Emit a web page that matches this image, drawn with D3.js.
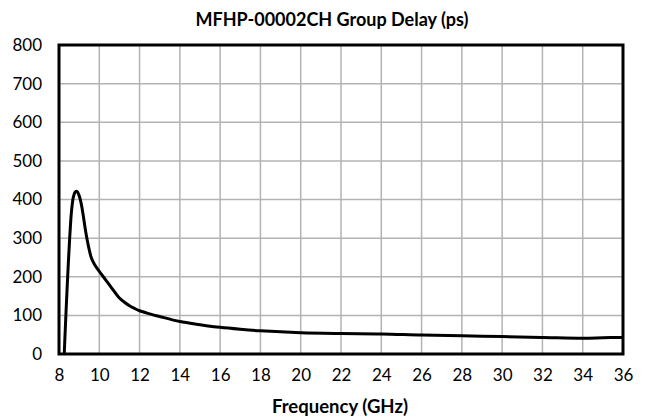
<!DOCTYPE html>
<html>
<head>
<meta charset="utf-8">
<script src="https://cdn.jsdelivr.net/npm/d3@7"></script>
<style>
  html, body { margin: 0; padding: 0; background: #fff; }
  svg { display: block; font-family: Lato, "Open Sans", sans-serif; }
</style>
</head>
<body>
<svg id="chart" width="650" height="419"></svg>
<script>
const titleText = "MFHP-00002CH Group Delay (ps)";
const xAxisTitle = "Frequency (GHz)";
const xTicks = [8,10,12,14,16,18,20,22,24,26,28,30,32,34,36];
const yTicks = [0,100,200,300,400,500,600,700,800];

const freq  = [8.26, 8.30, 8.35, 8.43, 8.53, 8.63, 8.72, 8.80, 8.89, 9.00, 9.10, 9.20, 9.30, 9.40, 9.50, 9.60, 9.75, 9.90, 10.0, 10.2, 10.4, 10.6, 10.8, 11.0, 11.25, 11.5, 11.75, 12, 12.5, 13, 14, 15, 16, 17, 18, 20, 22, 24, 26, 28, 30, 32, 34, 35, 36];
const delay = [0,    50,   110,  200,  300,  375,  408,  419,  421,  410,  390,  360,  325,  295,  270,  250,  233,  221,  214,  200,  186,  172,  158,  145,  134,   125,  118,   112, 104, 97, 84, 76, 69, 64, 60, 55, 53, 52, 49, 47, 45, 43, 41, 42, 43];

const svg = d3.select("#chart");
const m = { left: 59, right: 623, top: 45, bottom: 354 };

const x = d3.scaleLinear().domain([8, 36]).range([m.left, m.right]);
const y = d3.scaleLinear().domain([0, 800]).range([m.bottom, m.top]);

// gridlines
svg.append("g").selectAll("line.v").data(xTicks).join("line")
  .attr("x1", d => x(d)).attr("x2", d => x(d))
  .attr("y1", m.top).attr("y2", m.bottom)
  .attr("stroke", "#b3b3b3").attr("stroke-width", 1.5);
svg.append("g").selectAll("line.h").data(yTicks).join("line")
  .attr("x1", m.left).attr("x2", m.right)
  .attr("y1", d => y(d)).attr("y2", d => y(d))
  .attr("stroke", "#b3b3b3").attr("stroke-width", 1.5);

// clip
svg.append("clipPath").attr("id", "clip").append("rect")
  .attr("x", m.left).attr("y", m.top)
  .attr("width", m.right - m.left).attr("height", m.bottom - m.top);

// curve
const line = d3.line()
  .x((d, i) => x(freq[i]))
  .y((d, i) => y(delay[i]))
  .curve(d3.curveCatmullRom.alpha(0.5));
svg.append("path")
  .datum(freq)
  .attr("d", line)
  .attr("fill", "none")
  .attr("stroke", "#000")
  .attr("stroke-width", 3)
  .attr("stroke-linejoin", "round")
  .attr("clip-path", "url(#clip)");

// frame
svg.append("rect")
  .attr("x", m.left).attr("y", m.top)
  .attr("width", m.right - m.left).attr("height", m.bottom - m.top)
  .attr("fill", "none").attr("stroke", "#000").attr("stroke-width", 3);

// axes (labels only)
const xAxis = d3.axisBottom(x).tickValues(xTicks).tickSize(0).tickPadding(0).tickFormat(d3.format("d"));
const gx = svg.append("g").attr("transform", `translate(0,${m.bottom + 15})`).call(xAxis);
gx.select(".domain").remove();
gx.selectAll("text").attr("font-size", 17).attr("fill", "#000")
  .attr("font-family", "Lato, 'Open Sans', sans-serif");

const yAxis = d3.axisLeft(y).tickValues(yTicks).tickSize(0).tickPadding(0).tickFormat(d3.format("d"));
const gy = svg.append("g").attr("transform", `translate(${m.left - 17},0)`).call(yAxis);
gy.select(".domain").remove();
gy.selectAll("text").attr("font-size", 17).attr("fill", "#000")
  .attr("font-family", "Lato, 'Open Sans', sans-serif");

// title
svg.append("text")
  .attr("x", 332).attr("y", 26)
  .attr("text-anchor", "middle")
  .attr("font-size", 18).attr("font-weight", "bold")
  .text(titleText);

svg.append("text")
  .attr("x", 340).attr("y", 413)
  .attr("text-anchor", "middle")
  .attr("font-size", 18.5).attr("font-weight", "bold")
  .text(xAxisTitle);
</script>
</body>
</html>
